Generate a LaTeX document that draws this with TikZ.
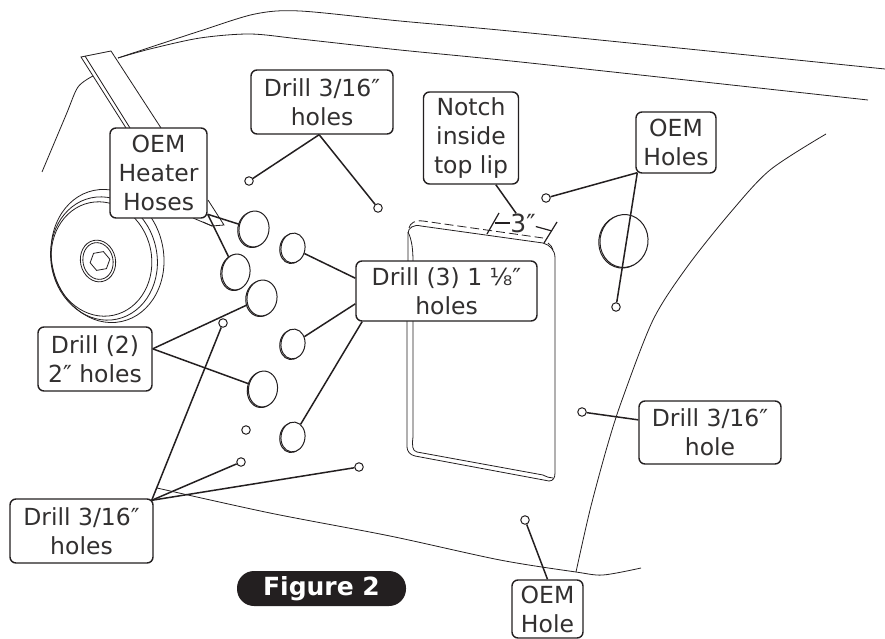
\documentclass[tikz,border=0pt]{standalone}
\usepackage{fontspec}
\setmainfont{DejaVu Sans}
\usepackage{xcolor}
\usetikzlibrary{shapes.geometric, positioning, calc}
\definecolor{inkdark}{RGB}{35,31,32}
\definecolor{inktext}{RGB}{50,48,48}
\tikzset{
    bodyline/.style={draw=inkdark, line width=0.8pt},
    leader/.style={draw=inkdark, line width=1.5pt},
    callout/.style={rectangle, rounded corners=6pt, draw=inkdark, line width=1.4pt, fill=white, text=inktext, align=center, inner sep=0pt, font=\fontsize{23.5}{29}\selectfont},
    smallhole/.style={circle, draw=inkdark, line width=1pt, fill=white, minimum size=8.5pt, inner sep=0pt},
    bighole/.style={ellipse, draw=inkdark, line width=1pt, fill=white, inner sep=0pt, rotate=-8}
}
\begin{document}
\begin{tikzpicture}[x=1pt, y=-1pt]
    \useasboundingbox (0,0) rectangle (885,639);

    % Body lines
    \draw[bodyline] plot[smooth] coordinates {(118,58) (133,53) (200,31) (255,14) (300,11) (400,21) (530,33) (885,69)};
    \draw[bodyline] plot[smooth] coordinates {(118,58) (150,49) (200,38) (250,34) (300,39) (400,50) (530,63) (868,100)};
    \draw[bodyline] plot[smooth] coordinates {(93,76) (78,87) (66,115) (42,172)};
    \draw[bodyline] (126,128) -- (81,57) -- (111,51) -- (161,128);
    \draw[bodyline] (130,128) -- (85,56);
    \draw[bodyline] (208,200) -- (224,225) -- (212,226) -- (193,218);
    \draw[bodyline] (203,222) -- (212,226);
    \draw[bodyline] plot[smooth] coordinates {(157,488) (270,513) (390,536) (500,560) (576,572) (603,575) (641,568)};
    \draw[bodyline] plot[smooth] coordinates {(576,572) (590,510) (607,447) (622,400) (653,320) (687,267) (730,213) (770,170) (826,134)};

    % Pulley
    \draw[bodyline, rotate around={12:(107.5,256)}] (107.5,256) ellipse [x radius=56, y radius=67];
    \draw[bodyline, rotate around={12:(104,258.5)}] (104,258.5) ellipse [x radius=53, y radius=62];
    \draw[bodyline, rotate around={12:(101.5,259)}] (101.5,259) ellipse [x radius=50, y radius=57.5];
    \draw[bodyline, rotate around={12:(98,261)}] (98,261) ellipse [x radius=17.5, y radius=21];
    \draw[bodyline, rotate around={12:(98,261)}] (98,261) ellipse [x radius=15, y radius=18.5];
    \node[regular polygon, regular polygon sides=6, bodyline, inner sep=0pt, minimum size=20pt, rotate=10] (bolt) at (100,261) {};

    % Panel opening
    \draw[bodyline] (408,262) -- (408,233) .. controls (408,228) and (414,224) .. (421,226) -- (543,243) .. controls (550,245) and (555,250) .. (555,258) -- (555,473) .. controls (555,478) and (553,481) .. (549,481) -- (415,456) .. controls (410,455) and (407,451) .. (407,447) -- (407,321);
    \draw[bodyline] (413,262) .. controls (413,250) and (412,240) .. (408,232);
    \draw[bodyline] (413,321) -- (413,437) .. controls (412,445) and (412,451) .. (417,452) -- (543,475) .. controls (547,477) and (550,478) .. (553,478);
    \draw[bodyline, dashed, dash pattern=on 9pt off 4pt] (409,228) .. controls (410,223) and (415,220) .. (423,221) -- (543,238);
    \draw[bodyline] (548,243) .. controls (551,245) and (552,247) .. (553,250);

    % Small holes
    \foreach \px/\py/\nm in {249/181/st, 378/208/sa, 546/198/sb, 616/307/sc, 582/412/sd, 525/520/se, 223/323/sf, 246/430/sg, 241/462/sh, 359/467/si}
        \node[smallhole] (\nm) at (\px,\py) {};

    % Large holes
    \foreach \px/\py/\rw/\rh/\nm in {254/229/30/36/ba, 236/272/28/36/bb, 262/298/30/36/bc, 293/248/24/30/bd, 293/344/24/30/be, 263/389/29/36/bf, 293/437/24/30/bg, 624/241/48/53/bh} {
        \node[bighole, minimum width=\rw pt, minimum height=\rh pt] at ($(\px,\py)+(-1.2,0.6)$) {};
        \node[bighole, minimum width=\rw pt, minimum height=\rh pt] (\nm) at (\px,\py) {};
    }

    % Callouts
    \node[callout, minimum width=97pt, minimum height=90pt] (heater) at (158.5,173) {OEM\\Heater\\Hoses};
    \node[callout, minimum width=142pt, minimum height=64pt] (drilltop) at (322,102) {Drill 3/16″\\holes};
    \node[callout, minimum width=95pt, minimum height=92pt] (notch) at (471,138) {Notch\\inside\\top lip};
    \node[callout, minimum width=80pt, minimum height=61pt] (oemholes) at (676,142.5) {OEM\\Holes};
    \node[callout, minimum width=181pt, minimum height=60pt] (drillthree) at (446.5,291) {Drill (3) 1 ⅛″\\holes};
    \node[callout, minimum width=114pt, minimum height=64pt] (drilltwo) at (95,359) {Drill (2)\\2″ holes};
    \node[callout, minimum width=143pt, minimum height=64pt] (drillleft) at (81.5,531) {Drill 3/16″\\holes};
    \node[callout, minimum width=142pt, minimum height=63pt] (drillright) at (710,432.5) {Drill 3/16″\\hole};
    \node[callout, minimum width=71pt, minimum height=58pt] (oemhole) at (547.5,609) {OEM\\Hole};

    % Dimension
    \node[text=inktext, inner sep=0pt, font=\fontsize{25}{28}\selectfont] (dimthree) at (523,223) {3″};
    \coordinate (tickla) at (487,234);
    \coordinate (ticklb) at (499,213);
    \coordinate (tickra) at (544,243);
    \coordinate (tickrb) at (557,222);
    \coordinate (diml) at (495,223);
    \coordinate (dimr) at (552,231);
    \draw[leader, line width=1.2pt] (tickla) -- (ticklb);
    \draw[leader, line width=1.2pt] (tickra) -- (tickrb);
    \draw[leader, line width=1.2pt] (diml) -- (dimthree);
    \draw[leader, line width=1.2pt] (dimthree) -- (dimr);

    % Figure tag
    \node[rectangle, rounded corners=17pt, fill=inkdark, text=white, minimum width=169pt, minimum height=35pt, inner sep=0pt, font=\fontsize{25}{28}\selectfont\bfseries] (figtag) at (321.5,588.5) {Figure 2};

    % Connections
    \draw[leader] (heater.-40) -- (ba);
    \draw[leader] (heater.-40) -- (bb);
    \draw[leader] (drilltop.-95) -- (st);
    \draw[leader] (drilltop.-95) -- (sa);
    \draw[leader] (notch.-62) -- (dimthree);
    \draw[leader] ($(oemholes.south west)+(2,-1)$) -- (sb);
    \draw[leader] ($(oemholes.south west)+(2,-1)$) -- (sc);
    \draw[leader] (drillthree.172) -- (bd);
    \draw[leader] (drillthree.188) -- (be);
    \draw[leader] (drillthree.-160) -- (bg);
    \draw[leader] (drilltwo.10) -- (bc);
    \draw[leader] (drilltwo.10) -- (bf);
    \draw[leader] ($(drillleft.north east)+(-2,2)$) -- (sf);
    \draw[leader] ($(drillleft.north east)+(-2,2)$) -- (sh);
    \draw[leader] ($(drillleft.north east)+(-2,2)$) -- (si);
    \draw[leader] (drillright.170) -- (sd);
    \draw[leader] (oemhole.north) -- (se);
\end{tikzpicture}
\end{document}
